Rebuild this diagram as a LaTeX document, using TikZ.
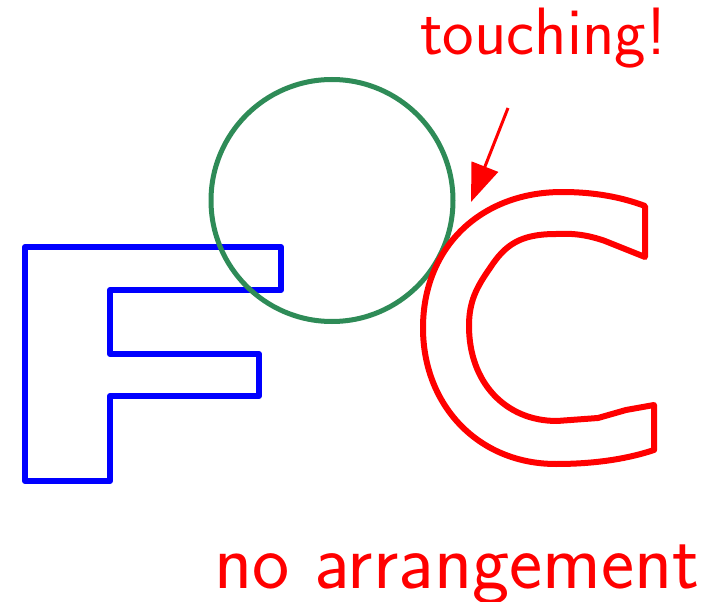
\documentclass[tikz,border=0pt]{standalone}
\usetikzlibrary{arrows.meta}
\definecolor{circlegreen}{RGB}{46,139,87}
\tikzset{
  outline/.style={line width=6pt, line join=round, line cap=round},
  label/.style={text=red, inner sep=0pt, anchor=base west, font=\sffamily}
}
\begin{document}
\begin{tikzpicture}[x=1pt, y=-1pt]
  \useasboundingbox (0,0) rectangle (716,602);
  % letter F
  \draw[outline, blue] (25,247) -- (281,247) -- (281,290) -- (110,290) -- (110,354)
    -- (259,354) -- (259,396) -- (110,396) -- (110,481) -- (25,481) -- cycle;
  % circle
  \draw[line width=5pt, circlegreen] (332,200.5) circle[radius=121];
  % letter C
  \draw[outline, red] (645,206) -- (645,257) -- (605,241)
    .. controls (588,235) and (573,233) .. (556,234)
    .. controls (520,234) and (505,245) .. (490,268)
    .. controls (476,288) and (469,302) .. (469,326)
    .. controls (469,382) and (505,421) .. (557,421)
    -- (598,418) -- (626,410) -- (654,405) -- (654,450)
    .. controls (630,458) and (598,464) .. (556,464)
    .. controls (478,464) and (423,405) .. (423,328)
    .. controls (423,246) and (482,192) .. (562,192)
    .. controls (594,192) and (621,197) .. (645,206) -- cycle;
  % arrow
  \coordinate (arrowtail) at (508,108);
  \coordinate (arrowtip) at (471,202);
  \draw[red, line width=3pt, -{Triangle[length=38pt,width=28pt]}] (arrowtail) -- (arrowtip);
  % labels
  \node[label, font=\sffamily\fontsize{67}{74}\selectfont] (touch) at (420,55) {touching!};
  \node[label, font=\sffamily\fontsize{79}{86}\selectfont] (arr) at (214,588) {no arrangement};
\end{tikzpicture}
\end{document}
